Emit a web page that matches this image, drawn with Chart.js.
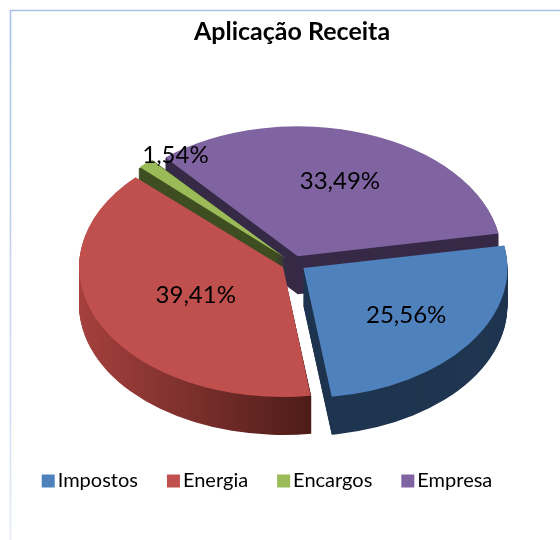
<!DOCTYPE html>
<html>
<head>
<meta charset="utf-8">
<style>html,body{margin:0;padding:0;background:#fff}canvas{display:block}</style>
<script src="https://cdn.jsdelivr.net/npm/chart.js@4/dist/chart.umd.min.js"></script>
</head>
<body>
<canvas id="c" width="560" height="540"></canvas>
<script>
const chartTitle = 'Aplicação Receita';
const categories = ['Impostos', 'Energia', 'Encargos', 'Empresa'];
const shares = [25.56, 39.41, 1.54, 33.49];
const topColors = ['#4f81bd', '#c0504d', '#9bbb59', '#8064a2'];
const sideColors = ['#1f3550', null, '#3f4f21', '#372a47'];
const labelRadii = [127, 98, 195, 125];
const labelAngleNudge = [0, 0, 9, 0];

const FONT = 'Lato';
const VIEW = { cx: 293.7, cy: 263.5, squash: 0.637, depth: 38, radius: 204, offset: 12, rotation: 80 };
const LEGEND_Y = 481, LEGEND_PADDING = 32, LEGEND_FONT = 20;

function arcsOf(chart) { return chart.getDatasetMeta(0).data; }
function midAngle(el) { return (el.startAngle + el.endAngle) / 2; }
function face(ctx, el, d) {
  ctx.translate(VIEW.cx, VIEW.cy + d);
  ctx.scale(1, VIEW.squash);
  ctx.translate(-el.x, -el.y);
}

const view3d = {
  id: 'view3d',
  // Chart.js moves an arc by offset / 4 and also widens it by offset / 4 * fix; undo the widening.
  afterDatasetsUpdate(chart) {
    arcsOf(chart).forEach((el) => {
      const fix = 1 - Math.sin(Math.min(Math.PI, el.circumference));
      el.outerRadius = VIEW.radius - VIEW.offset * fix;
    });
  },
  afterLayout(chart) {
    const shift = (box, dx, dy) => { box.left += dx; box.right += dx; box.top += dy; box.bottom += dy; };
    const lg = chart.legend, t = chart.titleBlock;
    shift(lg, -11.5, LEGEND_Y - LEGEND_PADDING - LEGEND_FONT / 2 - lg.top);
    lg.adjustHitBoxes();
    shift(t, 12, 32 - (t.top + t.bottom) / 2);
  },
  beforeDraw(chart) {
    const ctx = chart.ctx;
    ctx.save();
    ctx.fillStyle = '#fff';
    ctx.fillRect(0, 0, 560, 540);
    ctx.lineWidth = 1.6;
    ctx.strokeStyle = '#a8c1e4';
    ctx.beginPath(); ctx.moveTo(10, 10.5); ctx.lineTo(560, 10.5); ctx.stroke();
    const g = ctx.createLinearGradient(0, 10, 0, 540);
    g.addColorStop(0, '#a8c1e4'); g.addColorStop(1, '#e3e9f8');
    ctx.strokeStyle = g;
    ctx.beginPath(); ctx.moveTo(10.5, 10); ctx.lineTo(10.5, 540); ctx.stroke();
    ctx.restore();
  },
  beforeDatasetsDraw(chart) {
    const ctx = chart.ctx, arcs = arcsOf(chart);
    for (let i = arcs.length - 1; i >= 0; i--) {
      const el = arcs[i], m = midAngle(el);
      let fill = sideColors[i];
      if (!fill) {
        fill = ctx.createLinearGradient(el.x - 204, 0, el.x + 28, 0);
        fill.addColorStop(0, '#a5403d');
        fill.addColorStop(0.5, '#7a2f2c');
        fill.addColorStop(1, '#4e1c18');
      }
      for (let d = VIEW.depth; d >= 1; d--) {
        ctx.save();
        face(ctx, el, d);
        ctx.translate(Math.cos(m) * VIEW.offset, Math.sin(m) * VIEW.offset);
        ctx.fillStyle = fill;
        ctx.beginPath();
        ctx.moveTo(el.x, el.y);
        ctx.arc(el.x, el.y, VIEW.radius, el.startAngle, el.endAngle);
        ctx.closePath();
        ctx.fill();
        ctx.restore();
      }
    }
    ctx.save();
    face(ctx, arcs[0], 0);
  },
  afterDatasetsDraw(chart) { chart.ctx.restore(); },
  afterDraw(chart) {
    const ctx = chart.ctx, arcs = arcsOf(chart);
    ctx.save();
    ctx.fillStyle = '#000';
    ctx.font = '24px ' + FONT;
    ctx.textAlign = 'center';
    ctx.textBaseline = 'middle';
    arcs.forEach((el, i) => {
      const m = midAngle(el);
      const a = m + labelAngleNudge[i] * Math.PI / 180;
      const x = VIEW.cx + Math.cos(m) * VIEW.offset + Math.cos(a) * labelRadii[i];
      const y = VIEW.cy + (Math.sin(m) * VIEW.offset + Math.sin(a) * labelRadii[i]) * VIEW.squash;
      ctx.fillText(shares[i].toFixed(2).replace('.', ',') + '%', x, y);
    });
    chart.legend.legendHitBoxes.forEach((h, i) => {
      ctx.fillStyle = topColors[i];
      ctx.fillRect(h.left - 3, LEGEND_Y - 6.5, 13, 13);
    });
    ctx.restore();
  }
};

new Chart(document.getElementById('c'), {
  type: 'pie',
  plugins: [view3d],
  data: {
    labels: categories,
    datasets: [{
      data: shares,
      backgroundColor: topColors,
      borderWidth: 0,
      offset: VIEW.offset * 4,
      clip: false
    }]
  },
  options: {
    responsive: false,
    animation: false,
    radius: VIEW.radius,
    rotation: VIEW.rotation,
    plugins: {
      tooltip: { enabled: false },
      title: {
        display: true,
        text: chartTitle,
        color: '#000',
        font: { family: FONT, size: 25, weight: 'bold' },
        padding: 0
      },
      legend: {
        position: 'bottom',
        labels: {
          color: '#000',
          font: { family: FONT, size: LEGEND_FONT },
          boxWidth: 3,
          boxHeight: 13,
          padding: LEGEND_PADDING,
          generateLabels: (chart) => categories.map((name, i) => ({
            text: name,
            fillStyle: 'rgba(0,0,0,0)',
            strokeStyle: 'rgba(0,0,0,0)',
            lineWidth: 0,
            index: i
          }))
        }
      }
    }
  }
});
</script>
</body>
</html>
